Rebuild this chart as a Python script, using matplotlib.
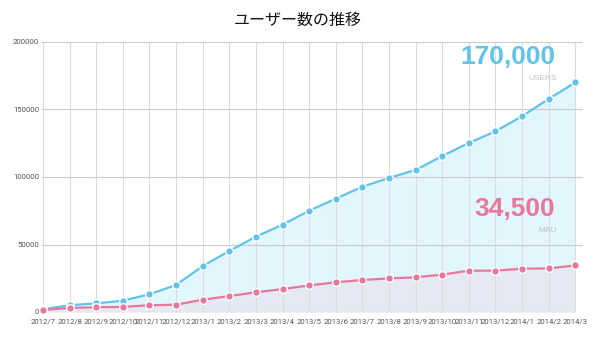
import matplotlib
matplotlib.use("Agg")
import matplotlib.pyplot as plt
from matplotlib import font_manager
import numpy as np

plt.rcParams['font.family'] = ['Noto Sans CJK JP', 'DejaVu Sans']

months = ["2012/7", "2012/8", "2012/9", "2012/10", "2012/11", "2012/12",
          "2013/1", "2013/2", "2013/3", "2013/4", "2013/5", "2013/6",
          "2013/7", "2013/8", "2013/9", "2013/10", "2013/11", "2013/12",
          "2014/1", "2014/2", "2014/3"]
users = [2000, 5000, 6400, 8400, 13100, 20000, 34000, 45200, 55800, 64700,
         75000, 83900, 92800, 99300, 105200, 115500, 125200, 133800,
         145000, 157800, 170000]
mau = [1500, 3000, 3500, 3800, 5000, 5400, 9100, 11800, 14600, 17000,
       19700, 22000, 23700, 24900, 25700, 27700, 30600, 30600,
       32100, 32300, 34500]
yticks = [0, 50000, 100000, 150000, 200000]

blue = "#62c3ea"
blue_fill = "#e2f6fd"
pink = "#e9779c"
pink_fill = "#e6e8f3"

names = {f.name for f in font_manager.fontManager.ttflist}
if 'Liberation Sans Narrow' in names:
    tick_font, tick_size = 'Liberation Sans Narrow', 6.4
elif 'DejaVu Sans Condensed' in names:
    tick_font, tick_size = 'DejaVu Sans Condensed', 5.4
else:
    tick_font, tick_size = 'Roboto', 5.6

W, H = 600, 343
fig = plt.figure(figsize=(W / 100, H / 100), dpi=100)
ax = fig.add_axes([43 / W, 31 / H, 540 / W, 270 / H])

x = np.arange(len(months))
ax.fill_between(x, users, 0, color=blue_fill, zorder=1, lw=0)
ax.fill_between(x, mau, 0, color=pink_fill, zorder=1.1, lw=0)

for xi in x:
    ax.axvline(xi, color="#dcdcdc", lw=0.8, zorder=1.5)
for yt in yticks:
    ax.axhline(yt, color="#cccccc", lw=0.8, zorder=1.5)

ax.plot(x, users, color=blue, lw=1.6, marker='o', ms=5.5,
        mfc=blue, mec='white', mew=1.0, zorder=3, clip_on=False)
ax.plot(x, mau, color=pink, lw=1.6, marker='o', ms=5.5,
        mfc=pink, mec='white', mew=1.0, zorder=3, clip_on=False)

ax.set_xlim(0, 20.29)
ax.set_ylim(0, 200000)
ax.set_xticks(x)
ax.set_xticklabels(months)
ax.set_yticks(yticks)
ax.set_yticklabels([str(v) for v in yticks])
for lab in ax.get_xticklabels() + ax.get_yticklabels():
    lab.set_family([tick_font, 'DejaVu Sans'])
    lab.set_fontsize(tick_size)
    lab.set_color("#555555")
ax.tick_params(axis='x', length=0, pad=5)
ax.tick_params(axis='y', length=1.8, width=0.8, color="#cccccc", pad=1)
for s in ax.spines.values():
    s.set_visible(False)

fig.text(298 / W, 1 - 20.5 / H, "ユーザー数の推移", ha='center', va='center',
         fontsize=11.5, color="#111111")

num_font = ['Liberation Sans', 'DejaVu Sans']
fig.text(555 / W, 1 - 57 / H, "170,000", ha='right', va='center',
         fontsize=19, fontweight='bold', color=blue, family=num_font)
fig.text(557 / W, 1 - 79 / H, "USERS", ha='right', va='center',
         fontsize=6, color="#c4c4c8", family=num_font)
fig.text(555 / W, 1 - 209.5 / H, "34,500", ha='right', va='center',
         fontsize=19, fontweight='bold', color=pink, family=num_font)
fig.text(557 / W, 1 - 231 / H, "MAU", ha='right', va='center',
         fontsize=6, color="#c4c4c8", family=num_font)

fig.savefig("out.png", dpi=100)
